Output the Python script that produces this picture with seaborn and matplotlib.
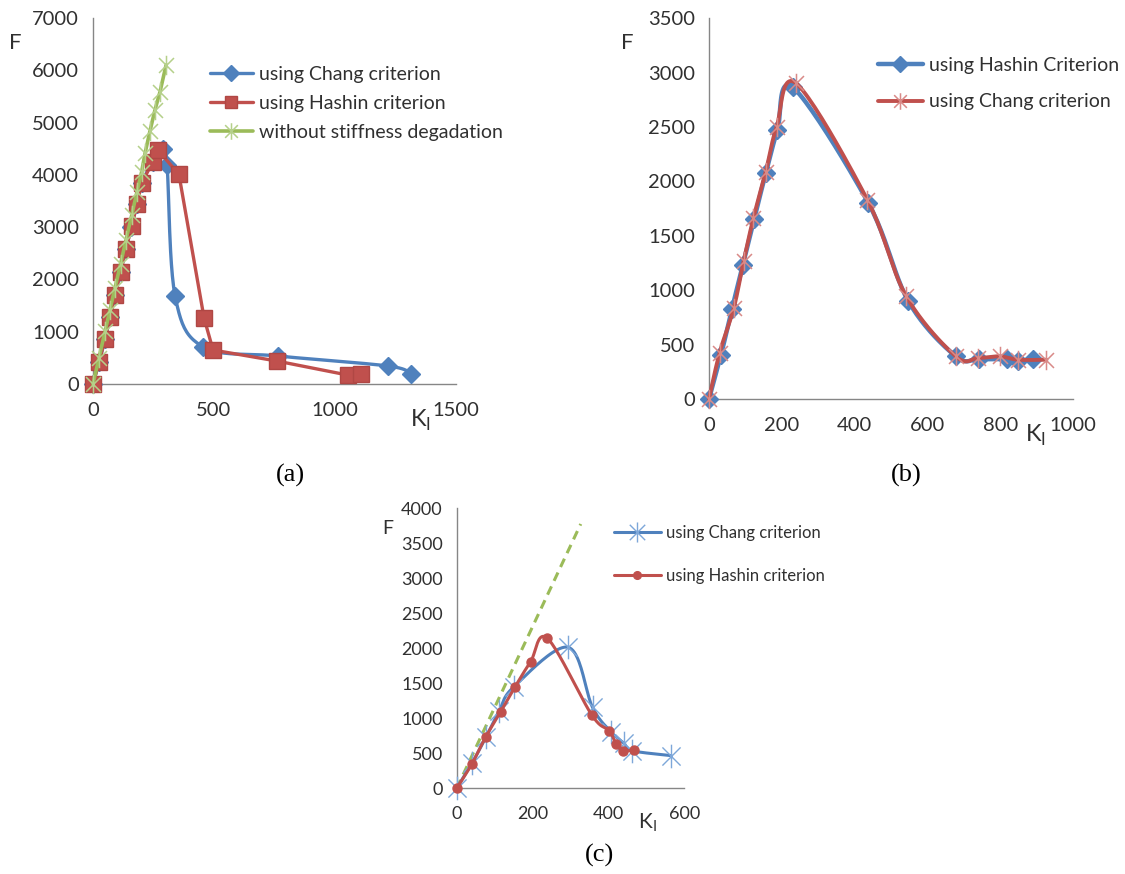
import numpy as np
import seaborn as sns
import matplotlib
matplotlib.use("Agg")
import matplotlib.pyplot as plt
from matplotlib.path import Path
from matplotlib.lines import Line2D

# ---- panel (a) ----
a_chang_x = [0, 25, 50, 70, 91, 114, 136, 158, 182, 201, 247, 289, 306, 339, 455, 766, 1218, 1313]
a_chang_y = [0, 420, 860, 1280, 1700, 2150, 2580, 3010, 3440, 3840, 4250, 4490, 4190, 1690, 710, 535, 345, 200]
a_hashin_x = [0, 25, 50, 70, 91, 114, 136, 160, 182, 201, 247, 269, 355, 459, 496, 759, 1054, 1106]
a_hashin_y = [0, 420, 860, 1280, 1700, 2150, 2580, 3020, 3440, 3840, 4250, 4470, 4010, 1260, 650, 440, 170, 200]
a_nodeg_x = [0, 25, 50, 70, 91, 114, 136, 160, 182, 201, 215, 235, 256, 277, 302]
a_nodeg_y = [0, 505, 1010, 1415, 1840, 2300, 2750, 3230, 3680, 4060, 4410, 4830, 5240, 5590, 6100]

# ---- panel (b) ----
b_hashin_x = [0, 33, 63, 93, 124, 156, 188, 230, 438, 548, 678, 741, 819, 849, 890]
b_hashin_y = [0, 407, 827, 1234, 1656, 2076, 2474, 2866, 1800, 897, 392, 367, 367, 352, 367]
b_chang_x = [0, 29, 68, 95, 122, 156, 186, 239, 435, 541, 678, 739, 799, 849, 927]
b_chang_y = [0, 423, 836, 1265, 1663, 2091, 2505, 2903, 1831, 949, 392, 377, 392, 361, 361]

# ---- panel (c) ----
c_chang_x = [0, 40, 77, 112, 151, 294, 358, 406, 441, 461, 565]
c_chang_y = [0, 357, 729, 1110, 1452, 2014, 1157, 810, 643, 538, 467]
c_hashin_x = [0, 40, 76, 116, 154, 195, 239, 356, 402, 420, 439, 467]
c_hashin_y = [0, 348, 729, 1095, 1452, 1810, 2143, 1048, 824, 633, 538, 548]
c_nodeg_x = [0, 327]
c_nodeg_y = [0, 3776]

BLUE = "#4F81BD"
RED = "#C0504D"
GREEN = "#9BBB59"
LIGHT_BLUE = "#7DA7D9"
LIGHT_RED = "#D98A88"
LIGHT_GREEN = "#B5D08A"
AX_GREY = "#868686"
TXT = "#303030"

sns.set_style("white")
plt.rcParams['font.family'] = ['Lato', 'DejaVu Sans']
plt.rcParams['mathtext.fontset'] = 'custom'
plt.rcParams['mathtext.rm'] = 'Lato'

# excel-like asterisk marker: an x with a vertical bar
STAR = Path([(-1, -1), (1, 1), (-1, 1), (1, -1), (0, -1.3), (0, 1.3)],
            [Path.MOVETO, Path.LINETO] * 3)


def smooth(x, y, n=24):
    # bezier smoothing the way excel draws "smoothed line"
    p = np.column_stack([x, y]).astype(float)
    p = np.vstack([p[0], p, p[-1]])
    t = np.linspace(0, 1, n)[:, None]
    segs = []
    for i in range(1, len(p) - 2):
        p0, p1, p2, p3 = p[i - 1], p[i], p[i + 1], p[i + 2]
        c1 = p1 + (p2 - p0) / 6
        c2 = p2 - (p3 - p1) / 6
        segs.append((1 - t) ** 3 * p1 + 3 * (1 - t) ** 2 * t * c1
                    + 3 * (1 - t) * t ** 2 * c2 + t ** 3 * p2)
    return np.vstack(segs)


def series(ax, x, y, color, lw, smoothed, marker, ms, mfc, mec, mew, z, ls='-'):
    if smoothed:
        s = smooth(x, y)
        xs, ys = s[:, 0], s[:, 1]
    else:
        xs, ys = x, y
    sns.lineplot(x=xs, y=ys, sort=False, estimator=None, color=color, lw=lw,
                 linestyle=ls, ax=ax, zorder=z)
    if marker is not None:
        ax.plot(x, y, linestyle='none', marker=marker, ms=ms, mfc=mfc, mec=mec,
                mew=mew, zorder=z + 0.5, clip_on=False)
    for ln in ax.lines:
        ln.set_clip_on(False)
    return Line2D([], [], color=color, lw=lw, marker=marker, ms=ms * 0.85,
                  mfc=mfc, mec=mec, mew=mew)


def style_axes(ax, xmax, xstep, ymax, ystep, fs):
    ax.set_xlim(0, xmax)
    ax.set_ylim(0, ymax)
    ax.set_xticks(np.arange(0, xmax + 1, xstep))
    ax.set_yticks(np.arange(0, ymax + 1, ystep))
    for side in ['top', 'right']:
        ax.spines[side].set_visible(False)
    for side in ['left', 'bottom']:
        ax.spines[side].set_color(AX_GREY)
        ax.spines[side].set_linewidth(1.0)
    ax.tick_params(direction='out', length=5, width=1, color=AX_GREY,
                   labelsize=fs, labelcolor=TXT, pad=5)
    ax.tick_params(axis='x', pad=8)
    ax.set_xlabel('')
    ax.set_ylabel('')


fig = plt.figure(figsize=(11.25, 8.74), dpi=100)
W, H = 1125, 874


def fx(px):
    return px / W


def fy(py):
    return 1 - py / H


# (a)
ax1 = fig.add_axes([fx(93), fy(384), 363 / W, 366 / H])
h1 = series(ax1, a_chang_x, a_chang_y, BLUE, 2.4, True, 'D', 9, BLUE, BLUE, 1, 3)
h2 = series(ax1, a_hashin_x, a_hashin_y, RED, 2.4, False, 's', 11, RED, "#B04744", 1, 4)
h3 = series(ax1, a_nodeg_x, a_nodeg_y, GREEN, 2.6, False, STAR, 14, 'none', LIGHT_GREEN, 1.1, 5)
style_axes(ax1, 1500, 500, 7000, 1000, 14.5)
ax1.legend([h1, h2, h3], ['using Chang criterion', 'using Hashin criterion',
                          'without stiffness degadation'],
           loc='upper left', bbox_to_anchor=(fx(210), fy(66)), bbox_transform=fig.transFigure,
           frameon=False, fontsize=14, handlelength=2.2, handletextpad=0.3,
           labelspacing=0.62, borderpad=0, borderaxespad=0, labelcolor=TXT)

# (b)
ax2 = fig.add_axes([fx(709), fy(399), 364 / W, 380.7 / H])
g1 = series(ax2, b_hashin_x, b_hashin_y, BLUE, 3.2, True, 'D', 9, BLUE, BLUE, 1, 3)
g2 = series(ax2, b_chang_x, b_chang_y, RED, 2.8, True, STAR, 14, 'none', LIGHT_RED, 1.1, 4)
style_axes(ax2, 1000, 200, 3500, 500, 14.5)
ax2.legend([g1, g2], ['using Hashin Criterion', 'using Chang criterion'],
           loc='upper left', bbox_to_anchor=(fx(878), fy(57)), bbox_transform=fig.transFigure,
           frameon=False, fontsize=14, handlelength=2.3, handletextpad=0.3,
           labelspacing=1.0, borderpad=0, borderaxespad=0, labelcolor=TXT)

# (c)
ax3 = fig.add_axes([fx(456.7), fy(788.3), 227.6 / W, 280 / H])
series(ax3, c_nodeg_x, c_nodeg_y, GREEN, 2.2, False, None, 0, None, None, 0, 2, ls=(0, (3, 2)))
k1 = series(ax3, c_chang_x, c_chang_y, BLUE, 2.2, True, STAR, 17, 'none', LIGHT_BLUE, 1.0, 3)
k2 = series(ax3, c_hashin_x, c_hashin_y, RED, 2.2, True, 'o', 6.5, RED, RED, 1, 4)
style_axes(ax3, 600, 200, 4000, 500, 13)
ax3.legend([k1, k2], ['using Chang criterion', 'using Hashin criterion'],
           loc='upper left', bbox_to_anchor=(fx(614), fy(525)), bbox_transform=fig.transFigure,
           frameon=False, fontsize=12, handlelength=2.8, handletextpad=0.3,
           labelspacing=1.6, borderpad=0, borderaxespad=0, labelcolor=TXT)

# axis names
for (xf, yf), (xk, yk), fs in [((15, 43), (421, 420), 16),
                               ((627, 43), (1036, 435), 16),
                               ((388, 529), (647, 823), 14)]:
    fig.text(fx(xf), fy(yf), 'F', fontsize=fs, color=TXT, ha='center', va='center')
    fig.text(fx(xk), fy(yk), r'$\mathrm{K}_{\mathrm{I}}$', fontsize=fs + 1, color=TXT,
             ha='center', va='center')

# panel captions
for lab, (px, py) in [('(a)', (290, 475)), ('(b)', (906, 475)), ('(c)', (600, 855))]:
    fig.text(fx(px), fy(py), lab, fontsize=19, family=['Liberation Serif', 'DejaVu Serif'],
             color='black', ha='center', va='center')

fig.savefig("out.png", dpi=100)
